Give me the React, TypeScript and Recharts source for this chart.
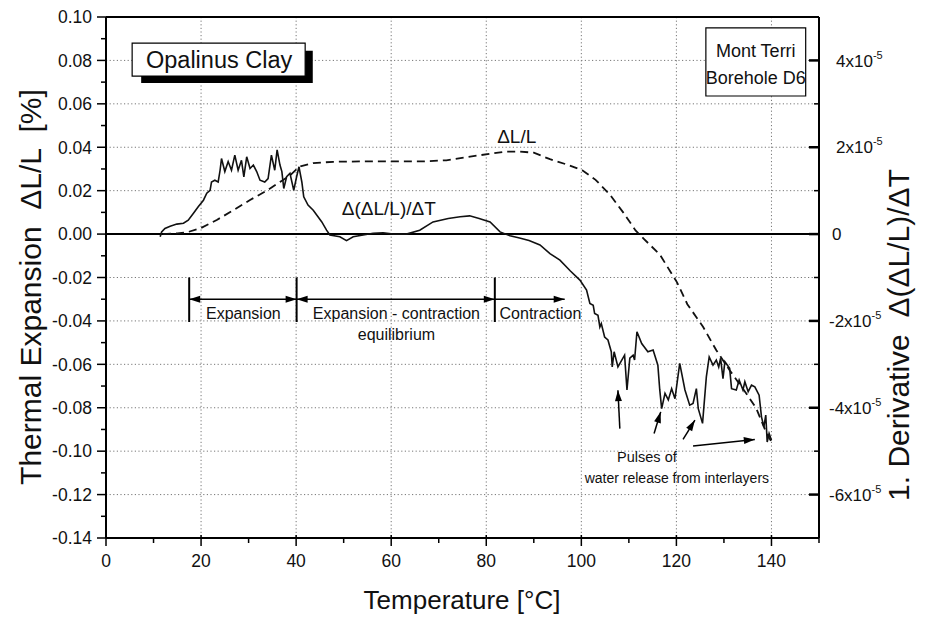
import React from "react";
import {
  ComposedChart,
  Line,
  XAxis,
  YAxis,
  CartesianGrid,
  ReferenceLine,
  ReferenceArea,
  ReferenceDot,
} from "recharts";

const FONT = "'Liberation Sans', Arial, Helvetica, sans-serif";

// axes
const tempTicks = [0, 10, 20, 30, 40, 50, 60, 70, 80, 90, 100, 110, 120, 130, 140, 150];
const tempGrid = [20, 40, 60, 80, 100, 120, 140];
const expTicks = [
  -0.14, -0.13, -0.12, -0.11, -0.1, -0.09, -0.08, -0.07, -0.06, -0.05, -0.04, -0.03,
  -0.02, -0.01, 0, 0.01, 0.02, 0.03, 0.04, 0.05, 0.06, 0.07, 0.08, 0.09, 0.1,
];
const expGrid = [-0.12, -0.1, -0.08, -0.06, -0.04, -0.02, 0.02, 0.04, 0.06, 0.08];
const derivTicks = [-7, -6, -5, -4, -3, -2, -1, 0, 1, 2, 3, 4, 5]; // x 10^-5

// thermal expansion dL/L [%]
const expT = [
  12, 15, 17, 19.8, 23.3, 26.8, 30.3, 33.8, 36.6, 38.7, 40.6, 43.6, 47.8, 55, 62, 67,
  71.6, 76, 80.8, 84, 87, 90, 93.4, 97, 100.2, 103, 106, 108.8, 111.4, 113.2, 116.5,
  120.1, 122.3, 125.6, 128.4, 131.2, 134.7, 136.8, 139, 140,
];
const expV = [
  0, 0.0003, 0.0008, 0.0026, 0.0065, 0.011, 0.0157, 0.02, 0.024, 0.027, 0.031, 0.0327,
  0.0333, 0.0335, 0.0335, 0.0335, 0.034, 0.0355, 0.037, 0.038, 0.038, 0.0375, 0.0345,
  0.032, 0.0294, 0.025, 0.0182, 0.01, 0.0017, -0.0023, -0.0094, -0.0221, -0.0323,
  -0.0427, -0.0535, -0.0627, -0.0734, -0.0803, -0.0919, -0.0957,
];

// first derivative d(dL/L)/dT, in units of 10^-5
const derivT = [
  11.4, 11.7, 12.4, 13.5, 14.9, 16.3, 17.3, 18.4, 19.4, 20.5, 21.2, 21.9, 22.2, 22.9,
  23.6, 24, 24.3, 25, 25.7, 26.4, 27.1, 27.8, 28.5, 29, 29.6, 30.3, 31, 31.7, 32.4,
  33.4, 34.1, 34.8, 35.5, 36, 36.6, 37, 37.4, 38, 38.7, 39.5, 40.1, 40.6, 41.2, 41.6,
  42.5, 43.6, 44.6, 45.4, 46.4, 47.1, 49.2, 50.6, 52, 54.1, 56.2, 58.3, 60.4, 63.2, 66,
  68.8, 72, 74.5, 76.5, 78.5, 80.8, 82.9, 85, 87, 89, 91.3, 93.4, 95.5, 97.7, 99.7,
  101.1, 101.8, 102.5, 102.8, 103.5, 103.9, 104.2, 104.9, 105.6, 106.3, 106.5, 106.9,
  107.7, 109.1, 109.6, 110.2, 110.9, 111.2, 111.7, 112.7, 114, 115.1, 116.1, 116.5,
  116.9, 117.6, 118.3, 119, 119.7, 120.7, 121.8, 122.8, 123.5, 124.2, 124.6, 125.5,
  126.3, 126.9, 127.7, 128.4, 128.9, 129.3, 129.8, 130.2, 131.2, 131.6, 132.6, 133.2,
  134, 134.4, 135.1, 135.8, 136.5, 137.4, 137.9, 138.4, 138.8, 139.1, 139.5, 140,
];
const derivV = [
  -0.06, 0.05, 0.13, 0.18, 0.23, 0.25, 0.32, 0.48, 0.63, 0.78, 0.94, 1.01, 1.2, 1.24,
  1.2, 1.47, 1.74, 1.44, 1.67, 1.47, 1.82, 1.47, 1.7, 1.32, 1.78, 1.51, 1.59, 1.44, 1.24,
  1.2, 1.28, 1.82, 1.47, 1.94, 1.59, 1.44, 1.05, 1.32, 1.4, 1.01, 1.32, 1.55, 1.2, 0.86,
  0.67, 0.55, 0.4, 0.28, 0.09, -0.02, -0.06, -0.15, -0.06, -0.02, 0.02, 0.03, 0, 0, 0.09,
  0.28, 0.36, 0.4, 0.42, 0.36, 0.28, 0.05, -0.04, -0.09, -0.15, -0.25, -0.45, -0.6,
  -0.85, -1.06, -1.29, -1.6, -1.64, -1.83, -1.87, -2.14, -2.06, -2.37, -2.44, -2.71,
  -3.06, -2.71, -3.06, -2.79, -3.59, -2.86, -2.79, -2.9, -2.25, -2.52, -2.71, -2.67,
  -3.02, -3.59, -4.02, -3.67, -3.82, -3.56, -3.79, -2.98, -3.59, -3.94, -3.9, -3.56,
  -4.02, -4.36, -3.29, -2.83, -3.02, -2.9, -3.06, -2.86, -3.33, -2.94, -3.09, -3.56,
  -3.59, -3.36, -3.59, -3.4, -3.63, -3.48, -3.52, -3.71, -4.21, -4.44, -4.17, -4.79,
  -4.59, -4.75,
];

// phases
const phaseBounds = [17.5, 40.1, 81.8];
const contractionEnd = 96.5;

const expData = expT.map((t, i) => ({ t, v: expV[i] }));
const derivData = derivT.map((t, i) => ({ t, d: derivV[i] }));

const notes = [
  { t: 86.4, v: 0.0452, text: "\u0394L/L", size: 19 },
  { t: 59.5, v: 0.0118, text: "\u0394(\u0394L/L)/\u0394T", size: 19 },
  { t: 23.8, v: 0.0802, text: "Opalinus Clay", size: 23.5 },
  { t: 136.7, v: 0.0844, text: "Mont Terri", size: 18 },
  { t: 136.7, v: 0.0719, text: "Borehole D6", size: 18 },
  { t: 28.9, v: -0.0366, text: "Expansion", size: 16 },
  { t: 61.1, v: -0.0366, text: "Expansion - contraction", size: 16 },
  { t: 61.1, v: -0.0461, text: "equilibrium", size: 16 },
  { t: 91.4, v: -0.0366, text: "Contraction", size: 16 },
  { t: 113.8, v: -0.1028, text: "Pulses of", size: 14.5 },
  { t: 120.1, v: -0.1125, text: "water release from interlayers", size: 14 },
];

const pulseArrows = [
  { from: [108.1, -0.0896], to: [107.7, -0.0719] },
  { from: [115.3, -0.0919], to: [116.7, -0.0819] },
  { from: [121.4, -0.0946], to: [123.9, -0.0857] },
  { from: [123.5, -0.0976], to: [136.5, -0.0946] },
];

const head = (x: number, y: number, a: number) => {
  const L = 11;
  const W = 3.5;
  const bx = x - L * Math.cos(a);
  const by = y - L * Math.sin(a);
  const px = W * Math.sin(a);
  const py = -W * Math.cos(a);
  return `${x},${y} ${bx + px},${by + py} ${bx - px},${by - py}`;
};

const arrowShape = (both: boolean) => (p: any) => {
  const { x1, y1, x2, y2 } = p;
  const a = Math.atan2(y2 - y1, x2 - x1);
  return (
    <g>
      <line x1={x1} y1={y1} x2={x2} y2={y2} stroke="#000" strokeWidth={1.5} />
      <polygon points={head(x2, y2, a)} fill="#000" />
      {both && <polygon points={head(x1, y1, a + Math.PI)} fill="#000" />}
    </g>
  );
};

const XTick = (props: any) => {
  const { x, y, payload } = props;
  const v = payload.value;
  const major = v % 20 === 0 && v <= 140;
  return (
    <g>
      <line x1={x} x2={x} y1={major ? y - 3 : y} y2={y + (major ? 8 : 5)} stroke="#000" strokeWidth={1.5} />
      {major && (
        <text x={x} y={y + 29} textAnchor="middle" fontSize={17.5} fontFamily={FONT} fill="#111">
          {v}
        </text>
      )}
    </g>
  );
};

const LeftTick = (props: any) => {
  const { x, y, payload } = props;
  const n = Math.round(payload.value * 100);
  const major = n % 2 === 0;
  return (
    <g>
      <line x1={x - (major ? 9 : 5)} x2={x} y1={y} y2={y} stroke="#000" strokeWidth={1.5} />
      {major && (
        <text x={x - 14} y={y} dy="0.36em" textAnchor="end" fontSize={17.5} fontFamily={FONT} fill="#111">
          {(n / 100).toFixed(2)}
        </text>
      )}
    </g>
  );
};

const RightTick = (props: any) => {
  const { x, y, payload } = props;
  const v = payload.value;
  const major = v % 2 === 0 && v > -7 && v < 5;
  return (
    <g>
      <line x1={x - (major ? 10 : 5)} x2={x} y1={y} y2={y} stroke="#000" strokeWidth={major ? 2.5 : 1.5} />
      {major &&
        (v === 0 ? (
          <text x={x + 13} y={y} dy="0.36em" fontSize={17} fontFamily={FONT} fill="#111">
            0
          </text>
        ) : (
          <text x={x + (v < 0 ? 10 : 17)} y={y} dy="0.36em" fontSize={17} fontFamily={FONT} fill="#111">
            <tspan>{`${v}x10`}</tspan>
            <tspan dy={-8} fontSize={11}>
              -5
            </tspan>
          </text>
        ))}
    </g>
  );
};

export default function App() {
  return (
    <div style={{ position: "absolute", left: 0, top: 0, width: 926, height: 619, background: "#fff" }}>
      <ComposedChart width={926} height={619} margin={{ top: 17, right: 0, bottom: 0, left: 0 }}>
        <CartesianGrid
          yAxisId="left"
          verticalValues={tempGrid}
          horizontalValues={expGrid}
          stroke="#777"
          strokeDasharray="1.2 2.4"
        />
        <XAxis
          dataKey="t"
          type="number"
          domain={[0, 150]}
          ticks={tempTicks}
          interval={0}
          height={81}
          tickSize={0}
          tickMargin={0}
          tickLine={false}
          tick={<XTick />}
          axisLine={{ stroke: "#000", strokeWidth: 2 }}
          allowDataOverflow
        />
        <YAxis
          yAxisId="left"
          type="number"
          domain={[-0.14, 0.1]}
          ticks={expTicks}
          interval={0}
          width={106}
          tickSize={0}
          tickMargin={0}
          tickLine={false}
          tick={<LeftTick />}
          axisLine={{ stroke: "#000", strokeWidth: 2 }}
          allowDataOverflow
        />
        <YAxis
          yAxisId="right"
          orientation="right"
          type="number"
          domain={[-7, 5]}
          ticks={derivTicks}
          interval={0}
          width={107}
          tickSize={0}
          tickMargin={0}
          tickLine={false}
          tick={<RightTick />}
          axisLine={{ stroke: "#000", strokeWidth: 2 }}
          allowDataOverflow
        />
        <ReferenceLine yAxisId="left" y={0.1} stroke="#000" strokeWidth={2} />
        <ReferenceLine yAxisId="left" y={0} stroke="#000" strokeWidth={2} />

        <Line
          data={expData}
          dataKey="v"
          yAxisId="left"
          type="linear"
          stroke="#111"
          strokeWidth={1.8}
          strokeDasharray="8 5"
          dot={false}
          activeDot={false}
          isAnimationActive={false}
        />
        <Line
          data={derivData}
          dataKey="d"
          yAxisId="right"
          type="linear"
          stroke="#111"
          strokeWidth={1.6}
          dot={false}
          activeDot={false}
          isAnimationActive={false}
        />

        {/* text boxes */}
        <ReferenceArea yAxisId="left" x1={7.4} x2={43.5} y1={0.0696} y2={0.0844} fill="#000" fillOpacity={1} stroke="none" />
        <ReferenceArea yAxisId="left" x1={5.5} x2={41.9} y1={0.0728} y2={0.088} fill="#fff" fillOpacity={1} stroke="#000" strokeWidth={1.2} />
        <ReferenceArea yAxisId="left" x1={126.2} x2={147.2} y1={0.0636} y2={0.095} fill="#fff" fillOpacity={1} stroke="#000" strokeWidth={1.2} />

        {/* phase markers */}
        {phaseBounds.map((t) => (
          <ReferenceLine
            key={`pb${t}`}
            yAxisId="left"
            segment={[{ x: t, y: -0.0405 }, { x: t, y: -0.02 }]}
            stroke="#000"
            strokeWidth={2}
          />
        ))}
        <ReferenceLine
          yAxisId="left"
          segment={[{ x: phaseBounds[0], y: -0.03 }, { x: phaseBounds[1], y: -0.03 }]}
          shape={arrowShape(true)}
        />
        <ReferenceLine
          yAxisId="left"
          segment={[{ x: phaseBounds[1], y: -0.03 }, { x: phaseBounds[2], y: -0.03 }]}
          shape={arrowShape(true)}
        />
        <ReferenceLine
          yAxisId="left"
          segment={[{ x: phaseBounds[2], y: -0.03 }, { x: contractionEnd, y: -0.03 }]}
          shape={arrowShape(false)}
        />
        {pulseArrows.map((a, i) => (
          <ReferenceLine
            key={`pa${i}`}
            yAxisId="left"
            segment={[{ x: a.from[0], y: a.from[1] }, { x: a.to[0], y: a.to[1] }]}
            shape={arrowShape(false)}
          />
        ))}

        {notes.map((n, i) => (
          <ReferenceDot
            key={`n${i}`}
            yAxisId="left"
            x={n.t}
            y={n.v}
            r={0}
            ifOverflow="visible"
            shape={(p: any) => (
              <text x={p.cx} y={p.cy} dy="0.36em" textAnchor="middle" fontSize={n.size} fontFamily={FONT} fill="#111">
                {n.text}
              </text>
            )}
          />
        ))}
      </ComposedChart>

      <svg width={926} height={619} style={{ position: "absolute", left: 0, top: 0, pointerEvents: "none" }}>
        <text x={462} y={600} dy="0.36em" textAnchor="middle" fontSize={26} fontFamily={FONT} fill="#111">
          Temperature [°C]
        </text>
        <text
          x={30}
          y={287}
          dy="0.36em"
          textAnchor="middle"
          fontSize={30}
          fontFamily={FONT}
          fill="#111"
          transform="rotate(-90 30 287)"
          style={{ whiteSpace: "pre" }}
        >
          {"Thermal Expansion  \u0394L/L  [%]"}
        </text>
        <text
          x={898}
          y={335}
          dy="0.36em"
          textAnchor="middle"
          fontSize={30}
          fontFamily={FONT}
          fill="#111"
          transform="rotate(-90 898 335)"
          style={{ whiteSpace: "pre" }}
        >
          {"1. Derivative  \u0394(\u0394L/L)/\u0394T"}
        </text>
      </svg>
    </div>
  );
}
